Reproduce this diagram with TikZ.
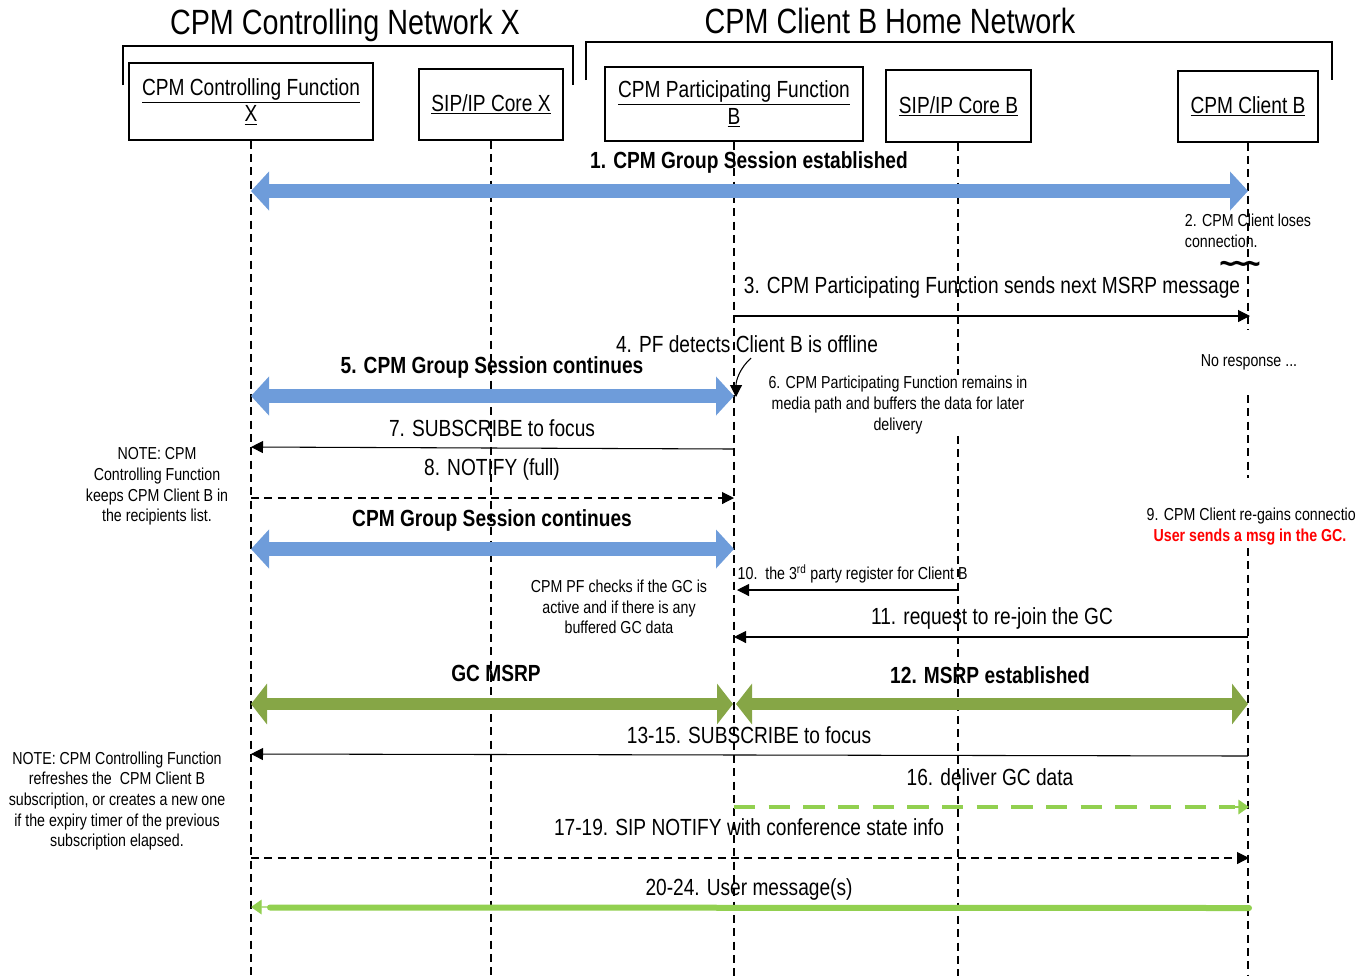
\documentclass[tikz,border=0pt]{standalone}
\usepackage{fontspec}
\setmainfont{Liberation Sans}[FakeStretch=0.82]
\usetikzlibrary{arrows.meta,calc}
\definecolor{sblue}{RGB}{110,156,218}
\definecolor{sgreen}{RGB}{134,166,70}
\definecolor{lgreen}{RGB}{146,208,80}
\definecolor{sred}{RGB}{255,0,0}
\tikzset{
  box/.style={draw,line width=0.8pt,inner sep=0pt,align=center,font=\fontsize{17.5}{20}\selectfont},
  life/.style={line width=0.8pt,dash pattern=on 6pt off 4pt},
  bracket/.style={line width=1.5pt},
  msg/.style={line width=0.8pt,-{Triangle[length=9pt,width=9pt]}},
  dmsg/.style={msg,dash pattern=on 6pt off 4pt},
  bluearr/.style={sblue,line width=10.5pt,{Triangle[length=13.5pt,width=28.5pt]}-{Triangle[length=13.5pt,width=28.5pt]}},
  greenarr/.style={sgreen,line width=9pt,{Triangle[length=12pt,width=30pt]}-{Triangle[length=12pt,width=30pt]}},
  title/.style={font=\fontsize{26.3}{30}\selectfont},
  med/.style={font=\fontsize{17.5}{20}\selectfont},
  medb/.style={font=\fontsize{17.5}{20}\selectfont\bfseries},
  small/.style={font=\fontsize{13}{15.4}\selectfont,align=center},
}
\begin{document}
\begin{tikzpicture}[x=0.75pt,y=-0.75pt]
\useasboundingbox (0,0) rectangle (1369,976);
% titles
\node[title] (t1) at (345,25) {CPM Controlling Network X};
\node[title] (t2) at (890,21) {CPM Client B Home Network};
% brackets
\draw[bracket] (123,85) -- (123,46) -- (573,46) -- (573,85);
\draw[bracket] (586,80) -- (586,42) -- (1332,42) -- (1332,80);
% boxes
\node[box,minimum width=183pt,minimum height=57.75pt] (cf) at (251,101.5) {\underline{CPM Controlling Function}\\\underline{X}};
\node[box,minimum width=108pt,minimum height=53.25pt] (sx) at (491,104.5) {\underline{SIP/IP Core X}};
\node[box,minimum width=193.5pt,minimum height=55.5pt] (pf) at (734,104) {\underline{CPM Participating Function}\\\underline{B}};
\node[box,minimum width=108.75pt,minimum height=54pt] (sb) at (958.5,106) {\underline{SIP/IP Core B}};
\node[box,minimum width=105pt,minimum height=53.25pt] (cl) at (1248,106.5) {\underline{CPM Client B}};
% lifeline ends
\coordinate (cfe) at (251,976);
\coordinate (sxe) at (491,976);
\coordinate (pfe) at (734,976);
\coordinate (sbe) at (958,976);
\coordinate (cl1) at (1248,330);
\coordinate (cl2) at (1248,395);
\coordinate (cl3) at (1248,478);
\coordinate (cl4) at (1248,548);
\coordinate (cle) at (1248,976);
\draw[life] (cf.south) -- (cfe);
\draw[life] (sx.south) -- (sxe);
\draw[life] (pf.south) -- (pfe);
\draw[life] ($(sb.south)+(-0.5,0)$) -- (sbe);
\draw[life] (cl.south) -- (cl1);
\draw[life] (cl2) -- (cl3);
\draw[life] (cl4) -- (cle);
% 1
\node[medb] (l1) at (749,162) {1. CPM Group Session established};
\coordinate (a1) at (251,191); \coordinate (b1) at (1248,191);
\draw[bluearr] (a1) -- (b1);
% 2
\node[small,align=left] (l2) at (1248,231) {2. CPM Client loses\\connection.};
\node[font=\fontsize{24}{26}\selectfont\bfseries,inner sep=0pt,text height=3pt,text depth=0pt] (tl) at (1240,264) {\raisebox{-6pt}{\char"7E\kern-2pt\char"7E\kern-2pt\char"7E}};
% 3
\node[med] (l3) at (992,287) {3. CPM Participating Function sends next MSRP message};
\coordinate (a3) at (734,316); \coordinate (b3) at (1250,316);
\draw[msg] (a3) -- (b3);
% 4
\node[med] (l4) at (747,344) {4. PF detects Client B is offline};
\node[small] (nr) at (1249,362) {No response ...};
\coordinate (c4a) at (751,358); \coordinate (c4b) at (736,397);
\draw[line width=0.8pt,-{Triangle[length=9pt,width=9pt]}] (c4a) .. controls (740,368) and (736,380) .. (c4b);
% 5
\node[medb] (l5) at (492,367) {5. CPM Group Session continues};
\coordinate (a5) at (251,396); \coordinate (b5) at (734,396);
\draw[bluearr] (a5) -- (b5);
% 6
\node[small,fill=white,inner sep=1pt] (l6) at (898,405) {6. CPM Participating Function remains in\\media path and buffers the data for later\\delivery};
% 7
\node[med] (l7) at (492,428) {7. SUBSCRIBE to focus};
\coordinate (a7) at (734,449); \coordinate (b7) at (251,447);
\draw[msg] (a7) -- (b7);
% 8
\node[med] (l8) at (492,469) {8. NOTIFY (full)};
\coordinate (a8) at (251,498); \coordinate (b8) at (734,498);
\draw[dmsg] (a8) -- (b8);
\node[small] (n1) at (157,486.5) {NOTE: CPM\\Controlling Function\\keeps CPM Client B in\\the recipients list.};
% continues
\node[medb] (lc) at (492,520) {CPM Group Session continues};
\coordinate (ac) at (251,549); \coordinate (bc) at (734,549);
\draw[bluearr] (ac) -- (bc);
% 9
\node[small,anchor=west] (l9) at (1142,516) {9. CPM Client re-gains connectio};
\node[font=\fontsize{13}{15.4}\selectfont\bfseries,text=sred] (l9b) at (1250,537) {User sends a msg in the GC.};
% PF checks
\node[small] (pc) at (619,607) {CPM PF checks if the GC is\\active and if there is any\\buffered GC data};
% 10
\node[small,anchor=west] (l10) at (733,574) {10.\ \ the 3\textsuperscript{rd} party register for Client B};
\coordinate (a10) at (958,590); \coordinate (b10) at (737,590);
\draw[msg] (a10) -- (b10);
% 11
\node[med] (l11) at (992,618) {11. request to re-join the GC};
\coordinate (a11) at (1248,637); \coordinate (b11) at (734,637);
\draw[msg] (a11) -- (b11);
% 12
\node[medb] (lg) at (496,673) {GC MSRP};
\node[medb] (l12) at (990,675) {12. MSRP established};
\coordinate (ag) at (251,704); \coordinate (bg) at (733,704);
\coordinate (a12) at (736,704); \coordinate (b12) at (1248,704);
\draw[greenarr] (ag) -- (bg);
\draw[greenarr] (a12) -- (b12);
% 13-15
\node[med] (l13) at (749,735) {13-15. SUBSCRIBE to focus};
\coordinate (a13) at (1248,756); \coordinate (b13) at (251,754);
\draw[msg] (a13) -- (b13);
\node[small] (n2) at (117,801) {NOTE: CPM Controlling Function\\refreshes the\ \ CPM Client B\\subscription, or creates a new one\\if the expiry timer of the previous\\subscription elapsed.};
% 16
\node[med] (l16) at (990,777) {16. deliver GC data};
\coordinate (a16) at (734,807); \coordinate (b16) at (1249,807);
\draw[lgreen,line width=3pt,dash pattern=on 16pt off 10pt] (a16) -- ($(b16)+(-14,0)$);
\draw[lgreen,line width=1pt,-{Triangle[length=8pt,width=11pt]}] ($(b16)+(-16,0)$) -- (b16);
% 17-19
\node[med] (l17) at (749,827) {17-19. SIP NOTIFY with conference state info};
\coordinate (a17) at (251,858); \coordinate (b17) at (1249,858);
\draw[dmsg] (a17) -- (b17);
% 20-24
\node[med] (l20) at (749,889) {20-24. User message(s)};
\coordinate (a20) at (1249,908); \coordinate (b20) at (251,907);
\draw[lgreen,line width=1pt,-{Triangle[length=8pt,width=11pt]}] (a20) -- (b20);
\draw[lgreen,line width=4.5pt,line cap=round] (a20) -- (270,907.5);
\end{tikzpicture}
\end{document}
